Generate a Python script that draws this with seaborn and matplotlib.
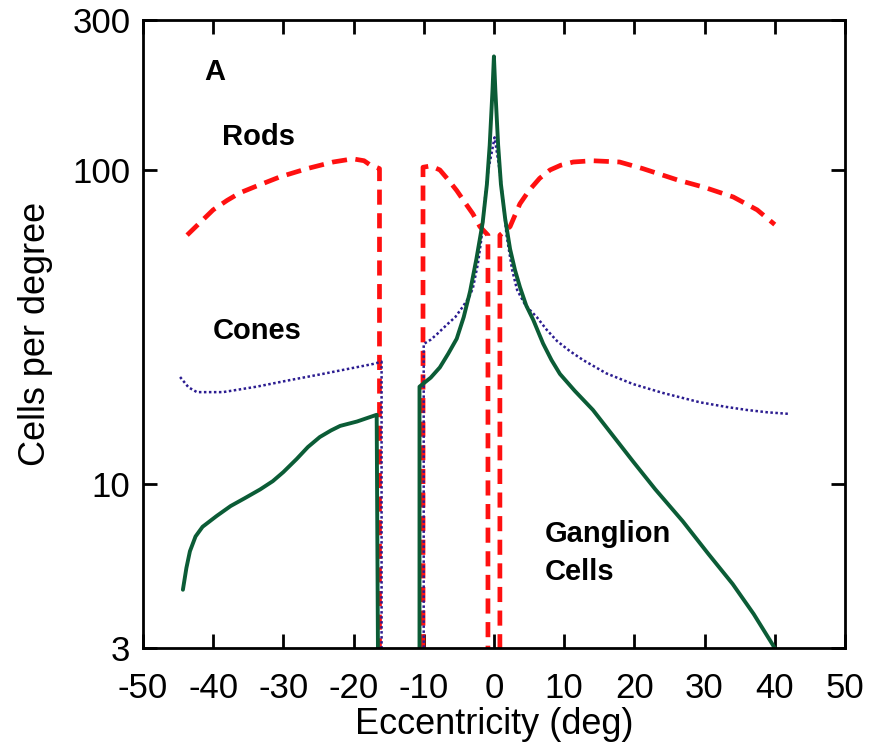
import numpy as np
import pandas as pd
import matplotlib
matplotlib.use("Agg")
import matplotlib.pyplot as plt
import seaborn as sns

# rods: three pieces (left of blind spot, between blind spot and fovea, right of fovea)
rods_x = [
    [-43.7, -42.0, -40.0, -38.0, -36.2, -34.0, -30.5, -26.6, -22.9, -20.1, -18.5, -17.7,
     -16.3, -16.3],
    [-10.1, -10.1, -9.0, -7.7, -6.5, -5.3, -4.0, -3.0, -2.0, -0.85, -0.85],
    [0.85, 0.85, 2.3, 3.7, 5.0, 6.5, 8.0, 9.5, 11.3, 14.0, 17.9, 21.2, 26.1, 30.0, 34.1,
     37.5, 40.0],
]
rods_y = [
    [62, 67.5, 74.6, 80, 84.5, 88.5, 95, 101, 106, 108.5, 107, 104, 101, 2.5],
    [2.5, 102, 103, 100, 93, 86, 78, 72.5, 66, 62, 2.5],
    [2.5, 62, 66, 78, 86, 94, 100, 103.5, 106, 107, 106, 101, 93, 88, 82, 74.6, 67],
]

cones_x = [
    [-44.7, -43.5, -42.3, -38.6, -33.8, -29.1, -24.4, -17.2, -16.0, -16.0],
    [-10.0, -10.0, -9.0, -8.1, -6.6, -5.5, -4.5, -3.5, -3.0, -2.3, -1.8, -1.3, -0.8, 0.1,
     0.8, 1.3, 1.8, 2.6, 3.3, 4.5, 6.1, 7.5, 9.0, 10.8, 12.7, 16.0, 19.8, 24.0, 29.3,
     33.0, 36.0, 39.0, 42.2],
]
cones_y = [
    [21.9, 20.3, 19.6, 19.6, 20.4, 21.4, 22.4, 24.1, 24.5, 2.5],
    [2.5, 27.9, 28.8, 30, 32.3, 34, 36.5, 39.5, 42, 50, 60, 80, 100, 127,
     100, 80, 62, 48, 41.5, 37, 34, 31, 28.5, 26.5, 24.8, 22.5, 20.8, 19.5, 18.2,
     17.6, 17.2, 16.9, 16.7],
]

ganglion_x = [
    [-44.3, -43.8, -43.3, -42.5, -41.5, -39.5, -37.5, -35.5, -33.3, -31.5, -30.0, -28.1,
     -26.5, -24.8, -23.2, -21.9, -19.5, -16.7, -16.5],
    [-10.6, -10.6, -9.0, -7.7, -6.5, -5.3, -4.3, -3.4, -2.5, -1.6, -1.0, -0.6, -0.2, 0.0,
     0.2, 0.6, 1.0, 1.6, 2.3, 3.0, 3.7, 4.6, 5.6, 7.0, 8.2, 9.4, 11.5, 14.1, 17.0, 19.8,
     23.0, 26.9, 30.5, 34.0, 37.0, 40.0],
]
ganglion_y = [
    [4.6, 5.4, 6.1, 6.8, 7.3, 7.9, 8.5, 9.0, 9.6, 10.2, 10.9, 12.0,
     13.1, 14.1, 14.8, 15.3, 15.8, 16.6, 2.5],
    [2.5, 20.4, 21.8, 23.5, 26, 29, 34, 41, 52, 68, 90, 120, 180, 230,
     180, 120, 90, 70, 56, 48, 42.4, 37, 33.3, 28, 24.8, 22.4, 19.8, 17.2, 14.2, 11.8,
     9.6, 7.6, 6.0, 4.8, 3.85, 3.0],
]

x_ticks = [-50, -40, -30, -20, -10, 0, 10, 20, 30, 40, 50]
y_ticks = [3, 10, 100, 300]
y_ticklabels = ["3", "10", "100", "300"]


def to_frame(xs, ys):
    rows = []
    for i, (sx, sy) in enumerate(zip(xs, ys)):
        for a, b in zip(sx, sy):
            rows.append({"ecc": a, "density": b, "seg": i})
    return pd.DataFrame(rows)


rods = to_frame(rods_x, rods_y)
cones = to_frame(cones_x, cones_y)
ganglion = to_frame(ganglion_x, ganglion_y)

sns.set_style("ticks")
plt.rcParams["font.family"] = ["Liberation Sans", "DejaVu Sans"]

fig = plt.figure(figsize=(8.82, 7.47), dpi=100)
ax = fig.add_axes([0.162, 0.1325, 0.796, 0.8405])

sns.lineplot(data=rods, x="ecc", y="density", units="seg", estimator=None, sort=False,
             color="#ff1010", lw=3.4, linestyle=(0, (3.2, 1.8)), ax=ax)
sns.lineplot(data=cones, x="ecc", y="density", units="seg", estimator=None, sort=False,
             color="#2b1c90", lw=1.8, linestyle=(0, (1, 1)), ax=ax)
sns.lineplot(data=ganglion, x="ecc", y="density", units="seg", estimator=None, sort=False,
             color="#0b5c36", lw=2.8, ax=ax)

ax.set_yscale("log")
ax.set_xlim(-50, 50)
ax.set_ylim(3, 300)
ax.set_xticks(x_ticks)
ax.set_xticklabels([str(t) for t in x_ticks])
ax.set_yticks(y_ticks)
ax.set_yticklabels(y_ticklabels)
ax.yaxis.set_minor_locator(matplotlib.ticker.NullLocator())

ax.tick_params(direction="in", length=10, width=2, top=True, right=True,
               labelsize=25, colors="black")
ax.tick_params(axis="x", pad=17)
ax.tick_params(axis="y", pad=9)
for s in ax.spines.values():
    s.set_linewidth(2)
    s.set_color("black")

ax.set_xlabel("Eccentricity (deg)", fontsize=26, labelpad=2, color="black")
ax.set_ylabel("Cells per degree", fontsize=26, labelpad=14, color="black")

txt = dict(fontsize=21, fontweight="bold", color="black", va="baseline", ha="left")
ax.text(-41.3, 194, "A", **txt)
ax.text(-38.7, 120, "Rods", **txt)
ax.text(-40.0, 29, "Cones", **txt)
ax.text(7.3, 6.54, "Ganglion", **txt)
ax.text(7.3, 4.95, "Cells", **txt)

fig.savefig("out.png", dpi=100)
